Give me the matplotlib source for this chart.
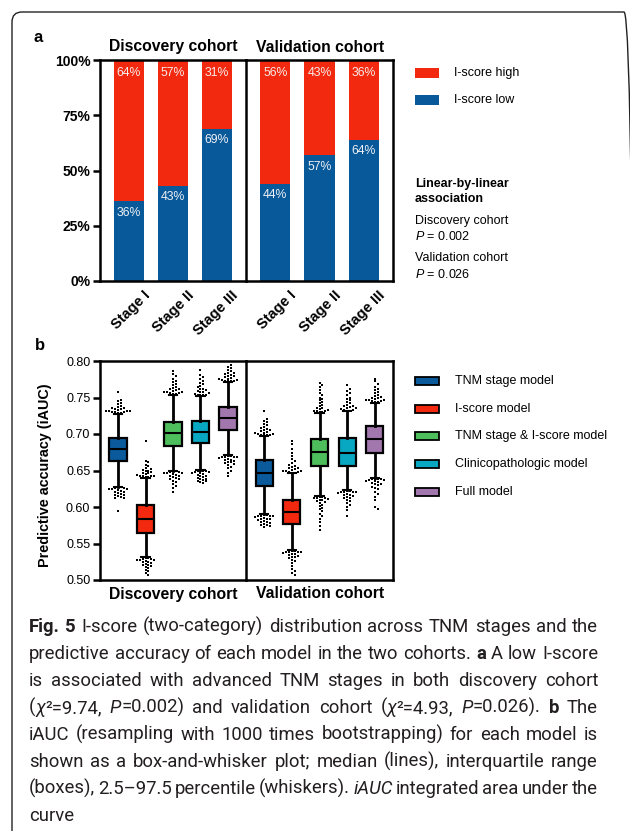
import numpy as np
import matplotlib
matplotlib.use('Agg')
import matplotlib.pyplot as plt
from matplotlib.patches import Rectangle, FancyBboxPatch
from matplotlib.transforms import ScaledTranslation

plt.rcParams['font.family'] = ['Liberation Sans', 'DejaVu Sans']
plt.rcParams['mathtext.fontset'] = 'custom'
plt.rcParams['mathtext.rm'] = 'Liberation Sans'
plt.rcParams['mathtext.it'] = 'Liberation Sans:italic'
plt.rcParams['mathtext.bf'] = 'Liberation Sans:bold'

# ---- data: panel a (percent of patients per stage) ----
stages = ['Stage I', 'Stage II', 'Stage III']
cohorts = ['Discovery cohort', 'Validation cohort']
low_disc = [36, 43, 69]
high_disc = [64, 57, 31]
low_val = [44, 57, 64]
high_val = [56, 43, 36]

# ---- data: panel b (iAUC bootstrap box stats) ----
models = ['TNM stage model', 'I-score model', 'TNM stage & I-score model',
          'Clinicopathologic model', 'Full model']
disc_q1 = [0.663, 0.564, 0.683, 0.687, 0.706]
disc_med = [0.679, 0.583, 0.701, 0.703, 0.722]
disc_q3 = [0.695, 0.603, 0.717, 0.718, 0.737]
disc_wlo = [0.628, 0.531, 0.650, 0.651, 0.671]
disc_whi = [0.728, 0.640, 0.754, 0.752, 0.771]
val_q1 = [0.629, 0.577, 0.656, 0.656, 0.674]
val_med = [0.647, 0.593, 0.676, 0.674, 0.693]
val_q3 = [0.664, 0.610, 0.693, 0.694, 0.711]
val_wlo = [0.590, 0.541, 0.615, 0.623, 0.640]
val_whi = [0.697, 0.646, 0.729, 0.731, 0.743]

# outliers beyond the whiskers, listed from the whisker end outwards
disc_out_hi = [
    [0.729, 0.729, 0.730, 0.730, 0.730, 0.731, 0.731, 0.732, 0.732, 0.733, 0.734, 0.734, 0.735, 0.736, 0.737, 0.739, 0.741, 0.743, 0.745, 0.747, 0.757],
    [0.641, 0.641, 0.642, 0.642, 0.643, 0.643, 0.644, 0.645, 0.646, 0.647, 0.648, 0.649, 0.650, 0.651, 0.652, 0.654, 0.656, 0.658, 0.661, 0.663, 0.691],
    [0.755, 0.755, 0.756, 0.756, 0.757, 0.757, 0.758, 0.759, 0.760, 0.761, 0.762, 0.763, 0.765, 0.767, 0.769, 0.771, 0.773, 0.776, 0.779, 0.782, 0.786],
    [0.753, 0.753, 0.754, 0.754, 0.755, 0.756, 0.757, 0.758, 0.759, 0.760, 0.761, 0.762, 0.764, 0.766, 0.768, 0.770, 0.772, 0.775, 0.778, 0.781, 0.787],
    [0.772, 0.772, 0.773, 0.773, 0.774, 0.774, 0.775, 0.776, 0.777, 0.778, 0.779, 0.780, 0.781, 0.782, 0.783, 0.784, 0.786, 0.788, 0.790, 0.792, 0.795],
]
disc_out_lo = [
    [0.627, 0.627, 0.626, 0.626, 0.625, 0.625, 0.624, 0.623, 0.622, 0.621, 0.620, 0.619, 0.618, 0.617, 0.616, 0.615, 0.614, 0.613, 0.612, 0.594],
    [0.530, 0.530, 0.529, 0.529, 0.528, 0.528, 0.527, 0.526, 0.525, 0.524, 0.523, 0.522, 0.521, 0.520, 0.519, 0.518, 0.516, 0.514, 0.512, 0.510, 0.507],
    [0.649, 0.649, 0.648, 0.648, 0.647, 0.647, 0.646, 0.645, 0.644, 0.643, 0.642, 0.641, 0.640, 0.639, 0.638, 0.636, 0.634, 0.632, 0.629, 0.626, 0.621],
    [0.650, 0.650, 0.649, 0.649, 0.648, 0.648, 0.647, 0.646, 0.645, 0.644, 0.643, 0.642, 0.641, 0.640, 0.639, 0.638, 0.637, 0.636, 0.635, 0.634, 0.633],
    [0.670, 0.670, 0.669, 0.669, 0.668, 0.668, 0.667, 0.666, 0.665, 0.664, 0.663, 0.662, 0.661, 0.660, 0.659, 0.657, 0.655, 0.653, 0.650, 0.647, 0.643],
]
val_out_hi = [
    [0.698, 0.698, 0.699, 0.699, 0.700, 0.700, 0.701, 0.702, 0.703, 0.704, 0.705, 0.706, 0.707, 0.708, 0.710, 0.712, 0.714, 0.716, 0.718, 0.721, 0.732],
    [0.647, 0.647, 0.648, 0.648, 0.649, 0.649, 0.650, 0.651, 0.652, 0.653, 0.654, 0.655, 0.656, 0.658, 0.660, 0.663, 0.666, 0.670, 0.674, 0.680, 0.686, 0.690],
    [0.730, 0.730, 0.731, 0.731, 0.732, 0.733, 0.734, 0.735, 0.736, 0.738, 0.740, 0.742, 0.744, 0.746, 0.748, 0.750, 0.753, 0.756, 0.760, 0.764, 0.767, 0.770],
    [0.732, 0.732, 0.733, 0.733, 0.734, 0.735, 0.736, 0.737, 0.738, 0.739, 0.740, 0.742, 0.744, 0.746, 0.748, 0.750, 0.753, 0.756, 0.759, 0.762, 0.767],
    [0.744, 0.744, 0.745, 0.745, 0.746, 0.746, 0.747, 0.748, 0.749, 0.750, 0.751, 0.752, 0.754, 0.756, 0.758, 0.760, 0.762, 0.765, 0.768, 0.772, 0.776],
]
val_out_lo = [
    [0.589, 0.589, 0.588, 0.588, 0.587, 0.587, 0.586, 0.585, 0.584, 0.584, 0.583, 0.582, 0.581, 0.580, 0.579, 0.578, 0.577, 0.576, 0.575, 0.574, 0.573],
    [0.540, 0.540, 0.539, 0.539, 0.538, 0.538, 0.537, 0.536, 0.535, 0.534, 0.533, 0.532, 0.531, 0.530, 0.528, 0.526, 0.523, 0.519, 0.515, 0.512, 0.509, 0.507],
    [0.614, 0.614, 0.613, 0.613, 0.612, 0.611, 0.610, 0.609, 0.608, 0.607, 0.605, 0.603, 0.601, 0.599, 0.597, 0.594, 0.591, 0.588, 0.584, 0.580, 0.574, 0.568],
    [0.622, 0.622, 0.621, 0.621, 0.620, 0.620, 0.619, 0.618, 0.617, 0.616, 0.615, 0.614, 0.613, 0.612, 0.610, 0.608, 0.606, 0.603, 0.600, 0.596, 0.587],
    [0.639, 0.639, 0.638, 0.638, 0.637, 0.637, 0.636, 0.635, 0.634, 0.633, 0.632, 0.631, 0.630, 0.628, 0.626, 0.624, 0.621, 0.618, 0.614, 0.610, 0.600, 0.597],
]

RED = '#F2290E'
BLUE = '#08599A'
box_colors = ['#0A5A9C', '#F2290E', '#4EBE5C', '#08A8C2', '#A277AE']

W, H = 630, 831
fig = plt.figure(figsize=(W / 100, H / 100), dpi=100)


def px_axes(x0, y0, x1, y1):
    ax = fig.add_axes([x0 / W, 1 - y1 / H, (x1 - x0) / W, (y1 - y0) / H])
    ax.patch.set_alpha(0)
    return ax


def ftext(x, y, s, **kw):
    return fig.text(x / W, 1 - y / H, s, **kw)


def frame(ax, left=True):
    for name, sp in ax.spines.items():
        sp.set_linewidth(1.8)
    ax.spines['left'].set_visible(left)


# outer rounded frame of the figure page
fig.add_artist(FancyBboxPatch((0.12, -0.10), 6.22, 8.29,
                              boxstyle='round,pad=0,rounding_size=0.1',
                              transform=fig.dpi_scale_trans, facecolor='none',
                              edgecolor='#222222', linewidth=1.0))

# ================= panel a =================
ax_ad = px_axes(100, 60, 246, 281)
ax_av = px_axes(246, 60, 393, 281)
bw = 0.68
for ax, low, high, name in [(ax_ad, low_disc, high_disc, cohorts[0]),
                            (ax_av, low_val, high_val, cohorts[1])]:
    x = np.arange(len(stages))
    ax.bar(x, low, bw, color=BLUE, zorder=2)
    ax.bar(x, high, bw, bottom=low, color=RED, zorder=2)
    ax.set_xlim(-0.66, 2.66)
    ax.set_ylim(0, 100)
    ax.set_xticks([])
    for xi, lo, hi in zip(x, low, high):
        ax.text(xi, 100 - 6, f'{hi}%', ha='center', va='center', color='#F6ECEA', fontsize=8.8)
        ax.text(xi, lo - 5.2, f'{lo}%', ha='center', va='center', color='#EEF0F4', fontsize=8.8)
    # rotated stage labels under each bar
    off = ScaledTranslation(0.19, -0.12, fig.dpi_scale_trans)
    for xi, st in zip(x, stages):
        ax.text(xi, 0, st, transform=ax.get_xaxis_transform() + off, rotation=45,
                rotation_mode='anchor', ha='right', va='center', fontsize=10.5,
                fontweight='bold')

frame(ax_ad)
frame(ax_av, left=False)
ax_ad.set_yticks([0, 25, 50, 75, 100], ['0%', '25%', '50%', '75%', '100%'],
                 fontweight='bold', fontsize=10)
ax_ad.tick_params(axis='y', length=5, width=1.8, pad=2)
ax_av.set_yticks([])

ftext(38, 38, 'a', fontsize=12, fontweight='bold', ha='center', va='center')
ftext(173, 47, cohorts[0], fontsize=11.3, fontweight='bold', ha='center', va='center')
ftext(320, 47, cohorts[1], fontsize=11.3, fontweight='bold', ha='center', va='center')

# legend a
for yc, col, lab in [(73, RED, 'I-score high'), (100, BLUE, 'I-score low')]:
    fig.add_artist(Rectangle((415 / W, 1 - (yc + 4.5) / H), 24 / W, 9 / H,
                             facecolor=col, edgecolor='none', transform=fig.transFigure))
    ftext(454, yc, lab, fontsize=9, va='center')
ftext(415, 184, 'Linear-by-linear', fontsize=9, fontweight='bold', va='center')
ftext(415, 199, 'association', fontsize=9, fontweight='bold', va='center')
ftext(415, 221, 'Discovery cohort', fontsize=9, va='center')
ftext(415, 237, '$P$ = 0.002', fontsize=9, va='center')
ftext(415, 258, 'Validation cohort', fontsize=9, va='center')
ftext(415, 274, '$P$ = 0.026', fontsize=9, va='center')

# ================= panel b =================
ax_bd = px_axes(100, 361, 246, 580)
ax_bv = px_axes(246, 361, 393, 580)
ppx = 27.5      # pixels per box slot
ppy = 219.3 / 0.30  # pixels per AUC unit


def swarm(values, center, d=2.9):
    placed = []
    xs = []
    steps = [0] + [s * i for i in range(1, 40) for s in (1, -1)]
    for v in values:
        y = v * ppy
        for k in steps:
            xo = k * d * 0.5
            if all((xo - px) ** 2 + (y - py) ** 2 >= d * d for px, py in placed):
                break
        placed.append((xo, y))
        xs.append(center + xo / ppx)
    return xs


for ax, q1, med, q3, wlo, whi, ohi, olo, name in [
        (ax_bd, disc_q1, disc_med, disc_q3, disc_wlo, disc_whi, disc_out_hi, disc_out_lo, cohorts[0]),
        (ax_bv, val_q1, val_med, val_q3, val_wlo, val_whi, val_out_hi, val_out_lo, cohorts[1])]:
    stats = [dict(q1=a, med=b, q3=c, whislo=d, whishi=e, fliers=[])
             for a, b, c, d, e in zip(q1, med, q3, wlo, whi)]
    pos = np.arange(len(models))
    bp = ax.bxp(stats, positions=pos, widths=0.62, patch_artist=True, showfliers=False,
                boxprops=dict(linewidth=1.6, edgecolor='black'),
                medianprops=dict(color='black', linewidth=1.5),
                whiskerprops=dict(color='black', linewidth=2.0),
                capprops=dict(color='black', linewidth=1.5), capwidths=0.3)
    for patch, col in zip(bp['boxes'], box_colors):
        patch.set_facecolor(col)
    for i in range(len(models)):
        for vals in (ohi[i], olo[i]):
            ax.plot(swarm(vals, pos[i]), vals, 's', ms=1.7, color='black',
                    markeredgewidth=0, zorder=4)
    ax.set_xlim(-0.655, 4.655)
    ax.set_ylim(0.50, 0.80)
    ax.set_xticks([])

frame(ax_bd)
frame(ax_bv, left=False)
ax_bd.set_yticks(np.arange(0.50, 0.801, 0.05), [f'{v:.2f}' for v in np.arange(0.50, 0.801, 0.05)],
                 fontsize=9)
ax_bd.tick_params(axis='y', length=5, width=1.8, pad=2)
ax_bv.set_yticks([])

ftext(40, 346, 'b', fontsize=12, fontweight='bold', ha='center', va='center')
ftext(45, 475, 'Predictive accuracy (iAUC)', fontsize=10.4, fontweight='bold',
      rotation=90, ha='center', va='center')
ftext(173, 594, cohorts[0], fontsize=11.3, fontweight='bold', ha='center', va='center')
ftext(320, 594, cohorts[1], fontsize=11.3, fontweight='bold', ha='center', va='center')

# legend b
for i, (col, lab) in enumerate(zip(box_colors, models)):
    yc = 381 + i * 27.7
    fig.add_artist(Rectangle((415 / W, 1 - (yc + 4) / H), 24 / W, 8 / H,
                             facecolor=col, edgecolor='black', linewidth=1.3,
                             transform=fig.transFigure))
    ftext(455, yc, lab, fontsize=9, va='center')

# ================= caption =================
cap_lines = [
    [('Fig. 5', 'bold'), (' I-score (two-category) distribution across TNM stages and the', 'normal')],
    [('predictive accuracy of each model in the two cohorts. ', 'normal'), ('a', 'bold'), (' A low I-score', 'normal')],
    [('is associated with advanced TNM stages in both discovery cohort', 'normal')],
    [('(', 'normal'), ('χ', 'italic'), ('²=9.74, ', 'normal'), ('P', 'italic'), ('=0.002) and validation cohort (', 'normal'),
     ('χ', 'italic'), ('²=4.93, ', 'normal'), ('P', 'italic'), ('=0.026). ', 'normal'), ('b', 'bold'), (' The', 'normal')],
    [('iAUC (resampling with 1000 times bootstrapping) for each model is', 'normal')],
    [('shown as a box-and-whisker plot; median (lines), interquartile range', 'normal')],
    [('(boxes), 2.5–97.5 percentile (whiskers). ', 'normal'), ('iAUC', 'italic'), (' integrated area under the', 'normal')],
    [('curve', 'normal')],
]
cap_family = ['Roboto', 'DejaVu Sans']
renderer = fig.canvas.get_renderer()


def style_kw(style, size):
    kw = dict(fontsize=size, family=cap_family)
    if style == 'bold':
        kw['fontweight'] = 'bold'
    elif style == 'italic':
        kw['fontstyle'] = 'italic'
    return kw


def split_words(line):
    words, cur = [], []
    for txt, style in line:
        parts = txt.split(' ')
        for j, p in enumerate(parts):
            if j > 0 and cur:
                words.append(cur)
                cur = []
            if p:
                cur.append((p, style))
    if cur:
        words.append(cur)
    return words


def word_width(word, size):
    w = 0
    for p, style in word:
        t = fig.text(0, 0, p, **style_kw(style, size))
        w += t.get_window_extent(renderer).width
        t.remove()
    return w


x_left, x_right = 29, 598
size = 14.0
sp = word_width([('a a', 'normal')], size) - word_width([('aa', 'normal')], size)
min_gap = 0.6 * sp
widest = max(sum(word_width(w, size) for w in split_words(l)) + min_gap * (len(split_words(l)) - 1)
             for l in cap_lines)
size = min(size, size * (x_right - x_left) / widest)
sp = word_width([('a a', 'normal')], size) - word_width([('aa', 'normal')], size)

for li, line in enumerate(cap_lines):
    words = split_words(line)
    widths = [word_width(w, size) for w in words]
    if li < len(cap_lines) - 1 and len(words) > 1:
        gap = (x_right - x_left - sum(widths)) / (len(words) - 1)
    else:
        gap = sp
    xb = x_left
    yb = 632 + li * 27.0
    for w, ww in zip(words, widths):
        xp = xb
        for p, style in w:
            t = ftext(xp, yb, p, va='baseline', color='#231F20', **style_kw(style, size))
            xp += t.get_window_extent(renderer).width
        xb += ww + gap

fig.savefig('out.png', dpi=100)
